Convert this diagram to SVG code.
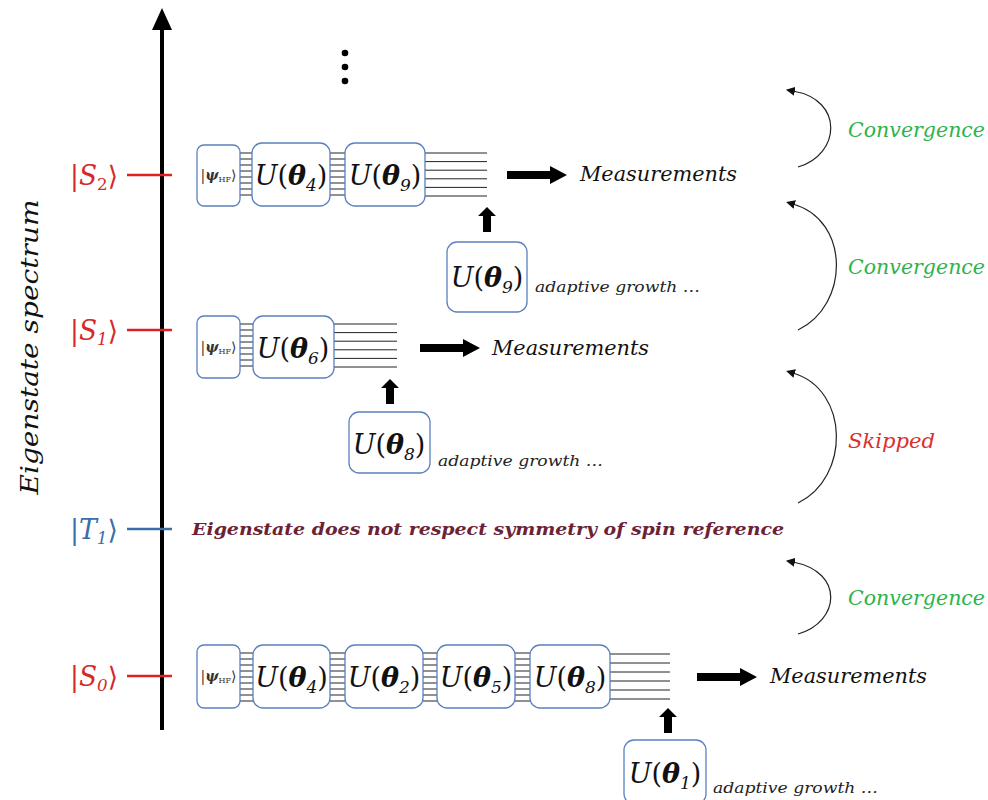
<svg xmlns="http://www.w3.org/2000/svg" width="988" height="800" viewBox="0 0 988 800">
<defs>
<style>
.box{fill:#fff;stroke:#5a80c0;stroke-width:1.3}
.w{stroke:#222;stroke-width:1}
.serif{font-family:"DejaVu Serif","Liberation Serif",serif}
.u{font-family:"DejaVu Serif","Liberation Serif",serif;font-size:27px;fill:#111;text-anchor:middle}
.psi{font-family:"DejaVu Serif","Liberation Serif",serif;font-size:14px;fill:#333;text-anchor:middle}
.meas{font-family:"DejaVu Serif","Liberation Serif",serif;font-size:20px;font-style:italic;fill:#111}
.ag{font-family:"DejaVu Serif","Liberation Serif",serif;font-size:14px;font-style:italic;fill:#222}
.conv{font-family:"DejaVu Serif","Liberation Serif",serif;font-size:20px;font-style:italic;fill:#2db34a}
.curve{fill:none;stroke:#222;stroke-width:1.2}
.lvl{font-family:"DejaVu Serif","Liberation Serif",serif;font-size:27px}
</style>
<marker id="ah" viewBox="0 0 10 10" refX="2" refY="5" markerWidth="9" markerHeight="9" orient="auto-start-reverse" markerUnits="userSpaceOnUse">
<path d="M0,0 L10,5 L0,10 Z" fill="#111"/>
</marker>
<symbol id="rarrow" overflow="visible"><path d="M0,-4 H43 V-9 L60,0 L43,9 V4 H0 Z" fill="#000"/></symbol>
</defs>
<rect width="988" height="800" fill="#fff"/>

<g id="axis">
<line x1="162" y1="730" x2="162" y2="28" stroke="#000" stroke-width="4"/>
<path d="M152,30 L162,8 L172,30 Z" fill="#000"/>
<circle cx="345" cy="53" r="3.3" fill="#000"/>
<circle cx="345" cy="67" r="3.3" fill="#000"/>
<circle cx="345" cy="81" r="3.3" fill="#000"/>
<text class="serif" font-size="25" font-style="italic" fill="#111" transform="translate(38,347) rotate(-90)" text-anchor="middle" textLength="295" lengthAdjust="spacingAndGlyphs">Eigenstate spectrum</text>
</g>

<g id="level-S2">
<line x1="127" y1="175" x2="172" y2="175" stroke="#e02020" stroke-width="2.5"/>
<text class="lvl" x="70" y="185" fill="#d42a2a" textLength="48" lengthAdjust="spacingAndGlyphs">|<tspan font-style="italic">S</tspan><tspan font-size="17" dy="5">2</tspan><tspan dy="-5">⟩</tspan></text>
</g>
<g id="level-S1">
<line x1="127" y1="330" x2="172" y2="330" stroke="#e02020" stroke-width="2.5"/>
<text class="lvl" x="70" y="340" fill="#d42a2a" textLength="48" lengthAdjust="spacingAndGlyphs">|<tspan font-style="italic">S</tspan><tspan font-size="17" dy="5" font-style="italic">1</tspan><tspan dy="-5">⟩</tspan></text>
</g>
<g id="level-T1">
<line x1="127" y1="529" x2="172" y2="529" stroke="#3a6ea8" stroke-width="2.5"/>
<text class="lvl" x="70" y="539" fill="#3a6ea8" textLength="48" lengthAdjust="spacingAndGlyphs">|<tspan font-style="italic">T</tspan><tspan font-size="17" dy="5" font-style="italic">1</tspan><tspan dy="-5">⟩</tspan></text>
<text class="serif" x="192" y="535" font-size="16" font-weight="bold" font-style="italic" fill="#6b2236" textLength="592" lengthAdjust="spacingAndGlyphs">Eigenstate does not respect symmetry of spin reference</text>
</g>
<g id="level-S0">
<line x1="127" y1="676" x2="172" y2="676" stroke="#e02020" stroke-width="2.5"/>
<text class="lvl" x="70" y="686" fill="#d42a2a" textLength="48" lengthAdjust="spacingAndGlyphs">|<tspan font-style="italic">S</tspan><tspan font-size="17" dy="5" font-style="italic">0</tspan><tspan dy="-5">⟩</tspan></text>
</g>

<!-- Row S2 -->
<g id="row-S2">
<g id="wires-S2">
<path class="w" d="M240,153H253M240,159H253M240,165H253M240,171H253M240,177H253M240,183H253M240,189H253M240,195H253"/>
<path class="w" d="M330,153H345M330,159H345M330,165H345M330,171H345M330,177H345M330,183H345M330,189H345M330,195H345"/>
<path class="w" d="M425,153H487M425,161.6H487M425,170.2H487M425,178.8H487M425,187.4H487M425,196H487"/>
</g>
<g id="psi-S2"><rect class="box" x="197" y="145" width="43" height="61" rx="7"/><text class="psi" x="218.5" y="180" textLength="36" lengthAdjust="spacingAndGlyphs">|<tspan font-style="italic" font-weight="bold">ψ</tspan><tspan font-size="8" dy="2">HF</tspan><tspan dy="-2">⟩</tspan></text></g>
<g id="U4-S2"><rect class="box" x="252" y="143" width="78" height="63" rx="10"/><text class="u" x="291" y="185"><tspan font-style="italic">U</tspan>(<tspan font-style="italic" font-weight="bold">θ</tspan><tspan font-size="17" dy="6" font-style="italic">4</tspan><tspan dy="-6">)</tspan></text></g>
<g id="U9-S2"><rect class="box" x="345" y="143" width="80" height="63" rx="10"/><text class="u" x="385" y="185"><tspan font-style="italic">U</tspan>(<tspan font-style="italic" font-weight="bold">θ</tspan><tspan font-size="17" dy="6" font-style="italic">9</tspan><tspan dy="-6">)</tspan></text></g>
<g id="meas-S2"><use href="#rarrow" x="507" y="175"/><text class="meas" x="580" y="181" textLength="157" lengthAdjust="spacingAndGlyphs">Measurements</text></g>
<g id="grow-S2">
<path d="M483,232V216H478L487,207L496,216H491V232Z" fill="#000"/>
<rect class="box" x="447" y="242" width="80" height="70" rx="10"/>
<text class="u" x="487" y="287"><tspan font-style="italic">U</tspan>(<tspan font-style="italic" font-weight="bold">θ</tspan><tspan font-size="17" dy="6" font-style="italic">9</tspan><tspan dy="-6">)</tspan></text>
<text class="ag" x="535" y="292" textLength="165" lengthAdjust="spacingAndGlyphs">adaptive growth  …</text>
</g>
</g>

<!-- Row S1 -->
<g id="row-S1">
<g id="wires-S1">
<path class="w" d="M240,324H253M240,330H253M240,336H253M240,342H253M240,348H253M240,354H253M240,360H253M240,366H253"/>
<path class="w" d="M334,324H397M334,332.6H397M334,341.2H397M334,349.8H397M334,358.4H397M334,367H397"/>
</g>
<g id="psi-S1"><rect class="box" x="197" y="316" width="43" height="62" rx="7"/><text class="psi" x="218.5" y="352" textLength="36" lengthAdjust="spacingAndGlyphs">|<tspan font-style="italic" font-weight="bold">ψ</tspan><tspan font-size="8" dy="2">HF</tspan><tspan dy="-2">⟩</tspan></text></g>
<g id="U6-S1"><rect class="box" x="253" y="316" width="81" height="62" rx="10"/><text class="u" x="293" y="358"><tspan font-style="italic">U</tspan>(<tspan font-style="italic" font-weight="bold">θ</tspan><tspan font-size="17" dy="6" font-style="italic">6</tspan><tspan dy="-6">)</tspan></text></g>
<g id="meas-S1"><use href="#rarrow" x="420" y="348"/><text class="meas" x="492" y="355" textLength="157" lengthAdjust="spacingAndGlyphs">Measurements</text></g>
<g id="grow-S1">
<path d="M386,404V388H381L390,379L399,388H394V404Z" fill="#000"/>
<rect class="box" x="349" y="412" width="81" height="61" rx="10"/>
<text class="u" x="389" y="454"><tspan font-style="italic">U</tspan>(<tspan font-style="italic" font-weight="bold">θ</tspan><tspan font-size="17" dy="6" font-style="italic">8</tspan><tspan dy="-6">)</tspan></text>
<text class="ag" x="438" y="466" textLength="165" lengthAdjust="spacingAndGlyphs">adaptive growth  …</text>
</g>
</g>

<!-- Row S0 -->
<g id="row-S0">
<g id="wires-S0">
<path class="w" d="M240,653H253M240,659H253M240,665H253M240,671H253M240,677H253M240,683H253M240,689H253M240,695H253M240,701H253"/>
<path class="w" d="M330,653H345M330,659H345M330,665H345M330,671H345M330,677H345M330,683H345M330,689H345M330,695H345M330,701H345"/>
<path class="w" d="M423,653H437M423,659H437M423,665H437M423,671H437M423,677H437M423,683H437M423,689H437M423,695H437M423,701H437"/>
<path class="w" d="M515,653H530M515,659H530M515,665H530M515,671H530M515,677H530M515,683H530M515,689H530M515,695H530M515,701H530"/>
<path class="w" d="M610,654H670M610,663H670M610,672H670M610,681H670M610,690H670M610,699H670"/>
</g>
<g id="psi-S0"><rect class="box" x="197" y="645" width="43" height="63" rx="7"/><text class="psi" x="218.5" y="681" textLength="36" lengthAdjust="spacingAndGlyphs">|<tspan font-style="italic" font-weight="bold">ψ</tspan><tspan font-size="8" dy="2">HF</tspan><tspan dy="-2">⟩</tspan></text></g>
<g id="U4-S0"><rect class="box" x="253" y="645" width="77" height="63" rx="10"/><text class="u" x="291.5" y="687"><tspan font-style="italic">U</tspan>(<tspan font-style="italic" font-weight="bold">θ</tspan><tspan font-size="17" dy="6" font-style="italic">4</tspan><tspan dy="-6">)</tspan></text></g>
<g id="U2-S0"><rect class="box" x="345" y="645" width="78" height="63" rx="10"/><text class="u" x="384" y="687"><tspan font-style="italic">U</tspan>(<tspan font-style="italic" font-weight="bold">θ</tspan><tspan font-size="17" dy="6" font-style="italic">2</tspan><tspan dy="-6">)</tspan></text></g>
<g id="U5-S0"><rect class="box" x="437" y="645" width="78" height="63" rx="10"/><text class="u" x="476" y="687"><tspan font-style="italic">U</tspan>(<tspan font-style="italic" font-weight="bold">θ</tspan><tspan font-size="17" dy="6" font-style="italic">5</tspan><tspan dy="-6">)</tspan></text></g>
<g id="U8-S0"><rect class="box" x="530" y="645" width="80" height="63" rx="10"/><text class="u" x="570" y="687"><tspan font-style="italic">U</tspan>(<tspan font-style="italic" font-weight="bold">θ</tspan><tspan font-size="17" dy="6" font-style="italic">8</tspan><tspan dy="-6">)</tspan></text></g>
<g id="meas-S0"><use href="#rarrow" x="697" y="677"/><text class="meas" x="770" y="683" textLength="157" lengthAdjust="spacingAndGlyphs">Measurements</text></g>
<g id="grow-S0">
<path d="M664,733V717H659L668,708L677,717H672V733Z" fill="#000"/>
<rect class="box" x="624" y="740" width="82" height="64" rx="10"/>
<text class="u" x="665" y="783"><tspan font-style="italic">U</tspan>(<tspan font-style="italic" font-weight="bold">θ</tspan><tspan font-size="17" dy="6" font-style="italic">1</tspan><tspan dy="-6">)</tspan></text>
<text class="ag" x="713" y="793" textLength="165" lengthAdjust="spacingAndGlyphs">adaptive growth  …</text>
</g>
</g>

<g id="connectors">
<path class="curve" d="M798,167 C840,155 845,100 793,91" marker-end="url(#ah)"/>
<path class="curve" d="M798,330 C850,305 850,220 793,204" marker-end="url(#ah)"/>
<path class="curve" d="M798,503 C850,478 850,390 793,373" marker-end="url(#ah)"/>
<path class="curve" d="M798,634 C840,622 845,572 793,562" marker-end="url(#ah)"/>
</g>
<g id="labels-right">
<text class="conv" x="848" y="137" textLength="137" lengthAdjust="spacingAndGlyphs">Convergence</text>
<text class="conv" x="848" y="274" textLength="137" lengthAdjust="spacingAndGlyphs">Convergence</text>
<text class="conv" x="848" y="448" style="fill:#d9302c" textLength="87" lengthAdjust="spacingAndGlyphs">Skipped</text>
<text class="conv" x="848" y="605" textLength="137" lengthAdjust="spacingAndGlyphs">Convergence</text>
</g>
</svg>
